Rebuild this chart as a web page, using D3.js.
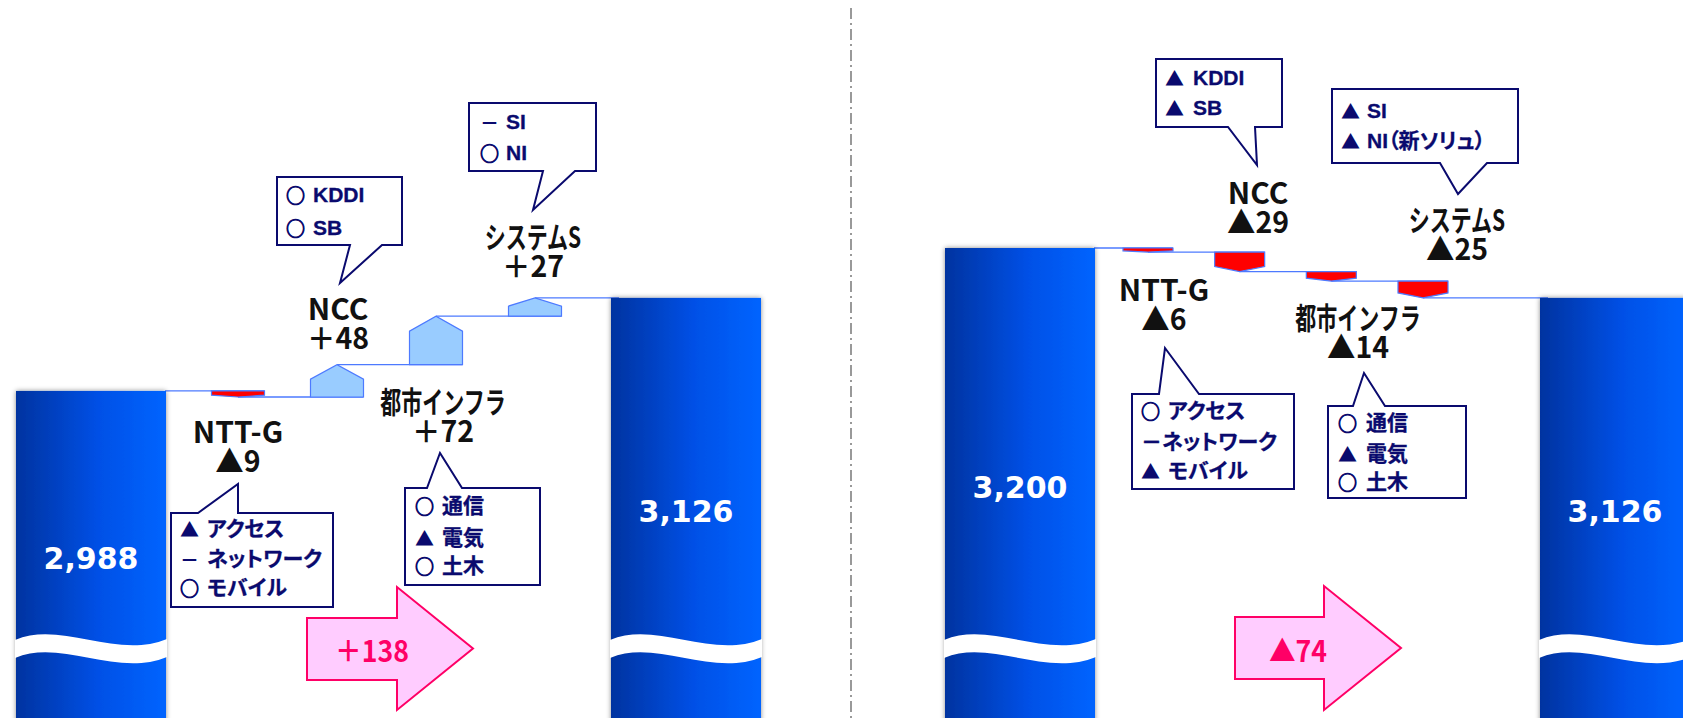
<!DOCTYPE html>
<html>
<head>
<meta charset="utf-8">
<script src="https://cdn.jsdelivr.net/npm/d3@7"></script>
<style>
  html, body { margin: 0; padding: 0; background: #fff; }
  svg { display: block; }
  .lbl { font-family: "Noto Sans CJK JP", sans-serif; font-weight: 700; }
  .sym { font-family: "Noto Sans CJK JP", sans-serif; font-weight: 700; }
  .note { font-family: "Liberation Sans", "Noto Sans CJK JP", sans-serif; font-weight: 700; font-feature-settings: "palt"; }
</style>
</head>
<body>
<svg id="chart" width="1683" height="718"></svg>
<script>
// Sales bridge by segment: two waterfall panels
const segments = ["NTT-G", "NCC", "都市インフラ", "システムS"];
const startValues = [2988, 3200];
const endValues = [3126, 3126];
const changesA = [-9, 48, 72, 27];
const changesB = [-6, -29, -14, -25];
const netChanges = [138, -74];

// Breakdown notes per segment: [mark, item]
const detailsA = [
  [["▲", "アクセス"], ["－", "ネットワーク"], ["○", "モバイル"]],
  [["○", "KDDI"], ["○", "SB"]],
  [["○", "通信"], ["▲", "電気"], ["○", "土木"]],
  [["－", "SI"], ["○", "NI"]]
];
const detailsB = [
  [["○", "アクセス"], ["", "－ネットワーク"], ["▲", "モバイル"]],
  [["▲", "KDDI"], ["▲", "SB"]],
  [["○", "通信"], ["▲", "電気"], ["○", "土木"]],
  [["▲", "SI"], ["▲", "NI（新ソリュ）"]]
];

const panels = [
  { start: startValues[0], end: endValues[0], changes: changesA, net: netChanges[0], details: detailsA },
  { start: startValues[1], end: endValues[1], changes: changesB, net: netChanges[1], details: detailsB }
];

// Placement of bars, steps and annotations for each panel
const layouts = [
  {
    barX: [16, 611], stepRange: [238, 535], stepW: 53,
    labelX: [238, 338, 443, 533], labelY: [472, 349, 442, 277],
    callouts: [
      { box: [171, 513, 333, 607], tail: [[198, 513], [238, 484], [238, 513]], rowY: [528, 558, 587], sx: 180, tx: 207 },
      { box: [277, 177, 402, 245], tail: [[350, 245], [340, 283], [382, 245]], rowY: [194, 227], sx: 286, tx: 313 },
      { box: [405, 488, 540, 585], tail: [[427, 488], [440, 453], [462, 488]], rowY: [505, 537, 565], sx: 415, tx: 442 },
      { box: [469, 103, 596, 171], tail: [[543, 171], [533, 210], [575, 171]], rowY: [121, 152], sx: 480, tx: 506 }
    ],
    arrow: { x0: 307, neck: 397, tip: 473, bodyTop: 618, bodyBot: 680, headTop: 587, headBot: 710, textX: 372, textY: 662 }
  },
  {
    barX: [945, 1540], stepRange: [1148, 1423], stepW: 50,
    labelX: [1164, 1258, 1358, 1457], labelY: [330, 233, 358, 260],
    callouts: [
      { box: [1132, 394, 1294, 489], tail: [[1159, 394], [1165, 348], [1199, 394]], rowY: [410, 441, 470], sx: 1141, tx: 1168 },
      { box: [1156, 59, 1282, 127], tail: [[1228, 127], [1257, 165], [1255, 127]], rowY: [77, 107], sx: 1165, tx: 1193 },
      { box: [1328, 406, 1466, 498], tail: [[1353, 406], [1364, 373], [1385, 406]], rowY: [422, 453, 481], sx: 1338, tx: 1366 },
      { box: [1332, 89, 1518, 163], tail: [[1440, 163], [1458, 194], [1487, 163]], rowY: [110, 140], sx: 1341, tx: 1367 }
    ],
    arrow: { x0: 1235, neck: 1324, tip: 1401, bodyTop: 617, bodyBot: 679, headTop: 586, headBot: 710, textX: 1298, textY: 662 }
  }
];

const W = 1683, H = 718;
const barW = 150;
const lineColor = "#4d7aff";
const navy = "#0a0a6e";
const labelSize = 30;
const lineGap = 29;
// kana/kanji lines are drawn condensed and heavier; latin and figures keep their width
const hasKana = str => /[\u3040-\u30ff\u4e00-\u9fff]/.test(str);
const squeezeOf = str => (hasKana(str) ? 0.7 : 1);

const svg = d3.select("#chart");
const defs = svg.append("defs");

const grad = defs.append("linearGradient").attr("id", "barGrad")
  .attr("x1", "0").attr("x2", "1").attr("y1", "0").attr("y2", "0");
grad.selectAll("stop")
  .data([["0%", "#0033a0"], ["55%", "#0050e6"], ["100%", "#0064ff"]])
  .join("stop").attr("offset", d => d[0]).attr("stop-color", d => d[1]);

const shadow = defs.append("filter").attr("id", "barShadow")
  .attr("x", "-10%").attr("y", "-5%").attr("width", "120%").attr("height", "110%");
shadow.append("feDropShadow").attr("dx", 0).attr("dy", 0)
  .attr("stdDeviation", 2.5).attr("flood-color", "#000").attr("flood-opacity", 0.45);

// Shared value scale (axis broken near the bottom of the bars)
const y = d3.scaleLinear().domain([2500, 3200]).range([720, 248]);

const fmtNum = d3.format(",");
const signOf = v => (v > 0 ? "＋" : "▲");

function wavePath(x0, w) {
  const s = w / 150;
  return `M${x0 - 1},640 C${x0 + 45 * s},620 ${x0 + 100 * s},660 ${x0 + w + 1},639 ` +
         `L${x0 + w + 1},657 C${x0 + 100 * s},678 ${x0 + 45 * s},638 ${x0 - 1},658 Z`;
}

function calloutPath(c) {
  const [x0, y0, x1, y1] = c.box;
  const [a, t, b] = c.tail;
  const p = d3.path();
  if (t[1] < y0) {
    p.moveTo(x0, y0); p.lineTo(a[0], a[1]); p.lineTo(t[0], t[1]); p.lineTo(b[0], b[1]);
    p.lineTo(x1, y0); p.lineTo(x1, y1); p.lineTo(x0, y1); p.closePath();
  } else {
    p.moveTo(x0, y0); p.lineTo(x1, y0); p.lineTo(x1, y1); p.lineTo(b[0], b[1]);
    p.lineTo(t[0], t[1]); p.lineTo(a[0], a[1]); p.lineTo(x0, y1); p.closePath();
  }
  return p.toString();
}

function stepPath(x0, x1, yFrom, yTo) {
  const xc = (x0 + x1) / 2;
  const h = Math.abs(yTo - yFrom);
  const p = d3.path();
  if (yTo < yFrom) { // increase: house shape pointing up
    const tri = Math.min(15, 0.45 * h);
    const s = yTo + tri;
    p.moveTo(x0, yFrom); p.lineTo(x0, s); p.lineTo(xc, yTo); p.lineTo(x1, s); p.lineTo(x1, yFrom);
  } else { // decrease: pointing down
    const tri = Math.min(5, 0.3 * h);
    const s = yTo - tri;
    p.moveTo(x0, yFrom); p.lineTo(x1, yFrom); p.lineTo(x1, s); p.lineTo(xc, yTo); p.lineTo(x0, s);
  }
  p.closePath();
  return p.toString();
}

panels.forEach((pd, pi) => {
  const L = layouts[pi];
  const g = svg.append("g").attr("class", "panel");
  const xStep = d3.scalePoint().domain(segments).range(L.stepRange);

  // cumulative levels
  const levels = [pd.start];
  pd.changes.forEach(c => levels.push(levels[levels.length - 1] + c));

  // connector lines
  const conn = [];
  segments.forEach((s, i) => {
    const xFrom = i === 0 ? L.barX[0] + barW - 1 : xStep(segments[i - 1]);
    const xTo = xStep(s) + L.stepW / 2;
    conn.push({ x1: xFrom, x2: xTo, v: levels[i] });
  });
  conn.push({ x1: xStep(segments[segments.length - 1]), x2: L.barX[1] + 8, v: levels[levels.length - 1] });
  g.selectAll("line.conn").data(conn).join("line").attr("class", "conn")
    .attr("x1", d => d.x1).attr("x2", d => d.x2)
    .attr("y1", d => y(d.v)).attr("y2", d => y(d.v))
    .attr("stroke", lineColor).attr("stroke-width", 1.3);

  // step marks
  g.selectAll("path.step").data(segments).join("path").attr("class", "step")
    .attr("d", (s, i) => stepPath(xStep(s) - L.stepW / 2, xStep(s) + L.stepW / 2, y(levels[i]), y(levels[i + 1])))
    .attr("fill", (s, i) => pd.changes[i] > 0 ? "#99ccff" : "#ff0000")
    .attr("stroke", lineColor).attr("stroke-width", 1.2).attr("stroke-linejoin", "miter");

  // total bars
  const bars = [{ x: L.barX[0], v: pd.start }, { x: L.barX[1], v: pd.end }];
  g.selectAll("rect.bar").data(bars).join("rect").attr("class", "bar")
    .attr("x", d => d.x).attr("y", d => y(d.v))
    .attr("width", barW).attr("height", d => H + 10 - y(d.v))
    .attr("fill", "url(#barGrad)").attr("filter", "url(#barShadow)");
  g.selectAll("path.wave").data(bars).join("path").attr("class", "wave")
    .attr("d", d => wavePath(d.x, barW)).attr("fill", "#fff");
  g.selectAll("text.barval").data(bars).join("text").attr("class", "barval")
    .attr("x", d => d.x + barW / 2).attr("y", d => (y(d.v) + H + 8) / 2)
    .attr("text-anchor", "middle").attr("dominant-baseline", "central")
    .attr("font-family", "'DejaVu Sans', Verdana, sans-serif").attr("font-weight", 700)
    .attr("font-size", 30).attr("fill", "#fff")
    .text(d => fmtNum(d.v));

  // segment labels: name line, then signed change line
  g.selectAll("text.segname").data(segments).join("text").attr("class", "segname lbl")
    .attr("transform", (s, i) => `translate(${L.labelX[i]},${L.labelY[i] - lineGap}) scale(${squeezeOf(s)},1)`)
    .attr("text-anchor", "middle").attr("font-size", labelSize).attr("fill", "#111")
    .attr("font-weight", s => hasKana(s) ? 900 : 700)
    .text(s => s);
  const vals = g.selectAll("text.segval").data(segments).join("text").attr("class", "segval lbl")
    .attr("transform", (s, i) => `translate(${L.labelX[i]},${L.labelY[i]}) scale(0.95,1)`)
    .attr("text-anchor", "middle").attr("font-size", labelSize).attr("fill", "#111");
  vals.append("tspan").attr("class", "sym").text((s, i) => signOf(pd.changes[i]));
  vals.append("tspan").text((s, i) => Math.abs(pd.changes[i]));

  // breakdown callouts
  segments.forEach((s, i) => {
    const c = L.callouts[i];
    const cg = g.append("g").attr("class", "callout");
    cg.append("path").attr("d", calloutPath(c))
      .attr("fill", "#fff").attr("stroke", navy).attr("stroke-width", 2).attr("stroke-linejoin", "miter");
    pd.details[i].forEach((row, r) => {
      if (row[0]) {
        cg.append("text").attr("class", "sym").attr("x", c.sx).attr("y", c.rowY[r])
          .attr("dominant-baseline", "central").attr("font-size", 19).attr("fill", navy)
          .attr("stroke", navy).attr("stroke-width", row[0] === "○" ? 0.9 : 0)
          .text(row[0]);
      }
      cg.append("text").attr("class", "note").attr("x", row[0] ? c.tx : c.sx).attr("y", c.rowY[r])
        .attr("dominant-baseline", "central").attr("font-size", 21).attr("fill", navy)
        .attr("stroke", navy).attr("stroke-width", 0.3)
        .text(row[1]);
    });
  });

  // net change arrow
  const a = L.arrow;
  const ap = d3.path();
  ap.moveTo(a.x0, a.bodyTop); ap.lineTo(a.neck, a.bodyTop); ap.lineTo(a.neck, a.headTop);
  ap.lineTo(a.tip, (a.headTop + a.headBot) / 2); ap.lineTo(a.neck, a.headBot);
  ap.lineTo(a.neck, a.bodyBot); ap.lineTo(a.x0, a.bodyBot); ap.closePath();
  g.append("path").attr("d", ap.toString())
    .attr("fill", "#ffccff").attr("stroke", "#ff0066").attr("stroke-width", 2);
  const at = g.append("text").attr("class", "lbl")
    .attr("transform", `translate(${a.textX},${a.textY}) scale(0.92,1)`)
    .attr("text-anchor", "middle").attr("font-size", 29).attr("fill", "#ff0066");
  at.append("tspan").attr("class", "sym").text(signOf(pd.net));
  at.append("tspan").text(Math.abs(pd.net));
});

// panel separator
svg.append("line").attr("x1", 851).attr("x2", 851).attr("y1", 8).attr("y2", H)
  .attr("stroke", "#999").attr("stroke-width", 2).attr("stroke-dasharray", "11 4 2 4");
</script>
</body>
</html>
